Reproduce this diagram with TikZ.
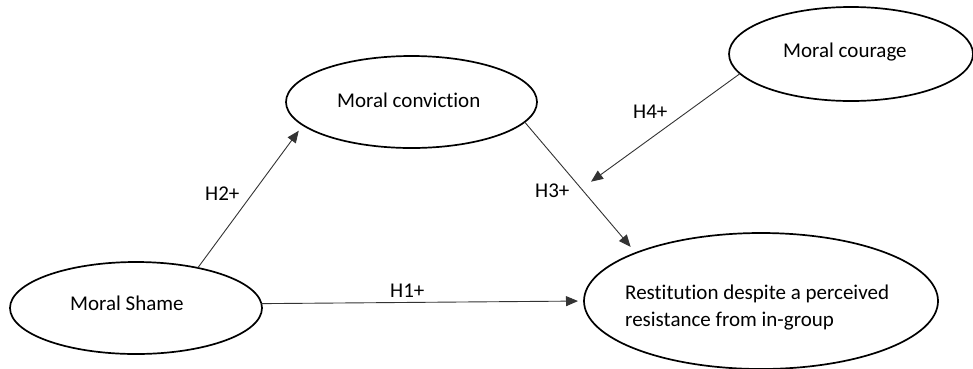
\documentclass[tikz,border=0pt]{standalone}
\usepackage{fontspec}
\setmainfont{Carlito}[Ligatures=NoCommon]
\usetikzlibrary{shapes.geometric,arrows.meta}

\begin{document}
\begin{tikzpicture}[x=1pt,y=-1pt,
  construct/.style={ellipse,draw=black,line width=1.7pt,inner sep=0pt,outer sep=0pt},
  labeltext/.style={font=\fontsize{21}{27}\selectfont,inner sep=0pt,anchor=base west},
  path/.style={draw=black!80,line width=0.9pt,-{Triangle[length=12pt,width=10pt]}},
]
\useasboundingbox (0,0) rectangle (973,368);

% latent constructs
\node[construct,minimum width=252pt,minimum height=92pt] (shame) at (136,308) {};
\node[construct,minimum width=251pt,minimum height=92pt] (conviction) at (411.5,102) {};
\node[construct,minimum width=244pt,minimum height=94pt] (courage) at (851,54) {};
\node[construct,minimum width=354pt,minimum height=136pt] (restitution) at (761,301) {};

% construct names (multi-line base anchor sits on the last line)
\node[labeltext] (shameTxt) at (70,310) {Moral Shame};
\node[labeltext] (convictionTxt) at (337,107) {Moral conviction};
\node[labeltext] (courageTxt) at (783,57) {Moral courage};
\node[labeltext,align=left] (restitutionTxt) at (625,326) {Restitution despite a perceived\\resistance from in-group};

% hypothesised paths
\draw[path,shorten >=6pt] (shame.2) -- (restitution.180);
\draw[path,shorten >=7pt] (shame.33) -- (conviction.192.6);
\draw[path,shorten >=8pt] (conviction.-10.9) -- coordinate[pos=0.51] (moderation) (restitution.159.8);
\draw[path,shorten >=12pt] (courage.190) -- (moderation);

% hypothesis labels
\node[labeltext] (h1) at (390,297) {H1+};
\node[labeltext] (h2) at (205,200) {H2+};
\node[labeltext] (h3) at (535,197) {H3+};
\node[labeltext] (h4) at (633,118) {H4+};
\end{tikzpicture}
\end{document}
